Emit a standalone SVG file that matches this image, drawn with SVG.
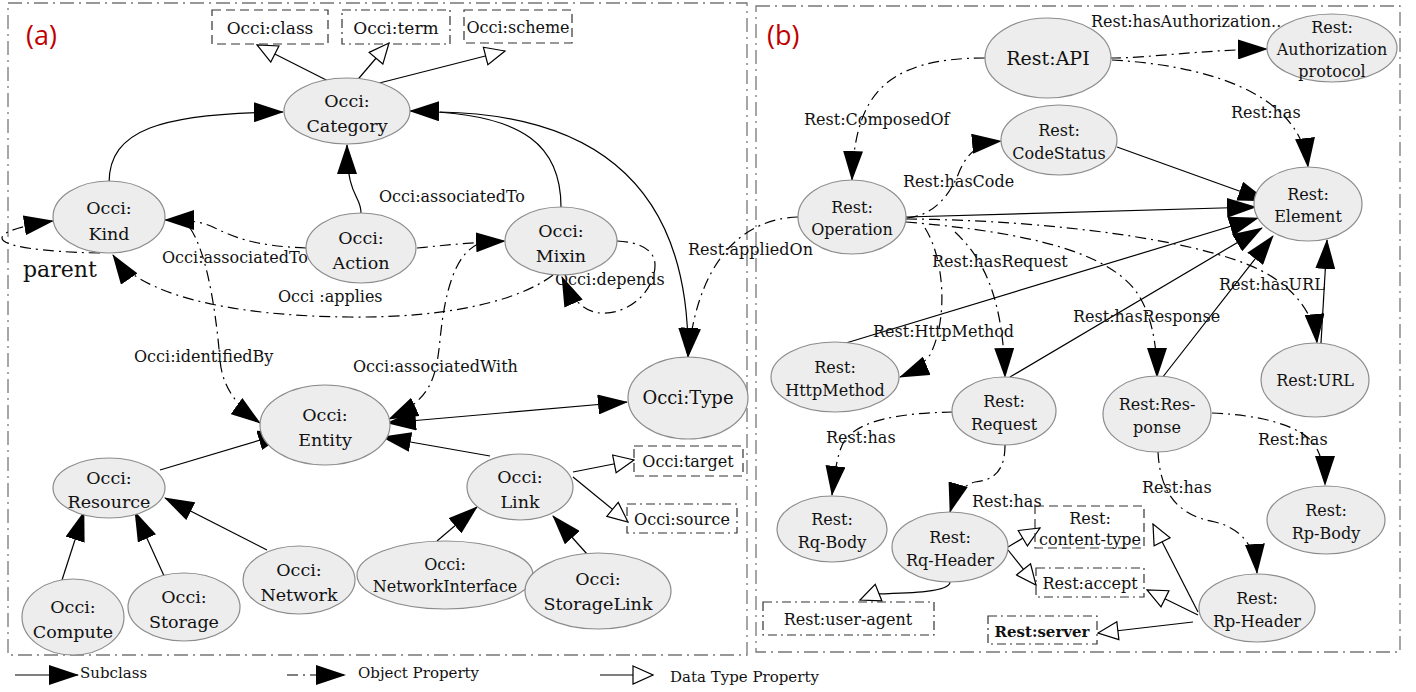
<svg xmlns="http://www.w3.org/2000/svg" width="1416" height="692" viewBox="0 0 1416 692">
<style>
.pan{fill:none;stroke:#777;stroke-width:1.3;stroke-dasharray:14,5,2,5}
.nd ellipse{fill:#ededed;stroke:#8c8c8c;stroke-width:1.2}
.bx rect{fill:none;stroke:#333;stroke-width:1.2;stroke-dasharray:9,5}
.bx2 rect{fill:none;stroke:#333;stroke-width:1.2;stroke-dasharray:9,4,2,4}
text{font-family:"DejaVu Serif","Liberation Serif",serif;fill:#111}
.t{font-size:17.5px;text-anchor:middle}
.tb{font-size:16px;text-anchor:middle}
.lb{font-size:16px}
.sub{fill:none;stroke:#000;stroke-width:1.2;marker-end:url(#fa)}
.obj{fill:none;stroke:#000;stroke-width:1.2;stroke-dasharray:11,5,2,5;marker-end:url(#fa)}
.dt{fill:none;stroke:#000;stroke-width:1.2;marker-end:url(#oa)}
.red{font-family:"Open Sans","DejaVu Sans",sans-serif;font-size:27px;fill:#c00000}
</style>
<defs>
<marker id="fa" viewBox="0 0 30 20" markerWidth="30" markerHeight="20" refX="29" refY="10" orient="auto-start-reverse" markerUnits="userSpaceOnUse"><path d="M0,0 L30,10 L0,20 Z" fill="#000"/></marker>
<marker id="oa" viewBox="-1 -1 22 20" markerWidth="22" markerHeight="20" refX="20" refY="9" orient="auto" markerUnits="userSpaceOnUse"><path d="M0,0 L20,9 L0,18 Z" fill="#fff" stroke="#000" stroke-width="1.2"/></marker>
</defs>

<rect class="pan" x="8" y="3" width="739" height="652"/>
<rect class="pan" x="756" y="6" width="644" height="646"/>
<text class="red" x="26" y="45">(a)</text>
<text class="red" x="767" y="45">(b)</text>

<g id="connectors">
<!-- panel a subclass -->
<path class="sub" d="M109,183 C109,130 160,113 283,112"/>
<path class="sub" d="M361,213 C361,195 347,198 347,145"/>
<path class="sub" d="M561,207 C561,150 530,112 410,111"/>
<path class="sub" d="M440,112 C600,115 690,190 688,357"/>
<path class="sub" d="M160,470 L287,432"/>
<path class="sub" d="M267,550 L165,498"/>
<path class="sub" d="M62,580 L84,512"/>
<path class="sub" d="M165,578 L135,512"/>
<path class="sub" d="M490,456 L382,437"/>
<path class="sub" d="M437,541 L477,507"/>
<path class="sub" d="M587,554 L553,516"/>
<path class="sub" d="M387,423 L627,402" marker-start="url(#fa)"/>
<!-- panel a data type -->
<path class="dt" d="M348,91 L257,45"/>
<path class="dt" d="M348,91 L389,43"/>
<path class="dt" d="M348,91 L505,51"/>
<path class="dt" d="M573,472 L634,460"/>
<path class="dt" d="M573,477 L628,522"/>
<!-- panel a object -->
<path class="obj" d="M100,253 C40,252 2,246 2,238 C2,232 20,226 53,221"/>
<path class="obj" d="M306,248 C250,246 230,235 215,228 C205,223 195,220 165,220"/>
<path class="obj" d="M190,228 C205,250 215,300 220,360 C222,385 235,405 260,423"/>
<path class="obj" d="M417,248 C440,246 460,243 505,241"/>
<path class="obj" d="M553,275 C520,300 450,318 350,317 C230,316 140,295 113,255"/>
<path class="obj" d="M617,241 C640,242 655,250 655,265 C655,290 630,315 600,313 C585,312 572,300 562,277"/>
<path class="obj" d="M478,244 C455,255 445,290 440,340 C436,380 430,400 389,419"/>
<path class="obj" d="M798,217 C760,218 700,240 688,357"/>
<!-- panel b subclass -->
<path class="sub" d="M1117,147 L1267,201"/>
<path class="sub" d="M906,217 L1256,207"/>
<path class="sub" d="M846,343 L1258,218"/>
<path class="sub" d="M1010,377 L1262,228"/>
<path class="sub" d="M1162,378 L1273,236"/>
<path class="sub" d="M1321,343 L1327,240"/>
<!-- panel b object -->
<path class="obj" d="M985,58 C880,58 855,100 852,180"/>
<path class="obj" d="M907,218 C935,215 950,195 960,170 C968,152 980,143 1001,141"/>
<path class="obj" d="M1110,58 C1150,58 1200,50 1267,49"/>
<path class="obj" d="M1112,60 C1200,65 1300,90 1308,167"/>
<path class="obj" d="M925,228 C945,260 948,320 930,355 C922,365 912,372 900,377"/>
<path class="obj" d="M955,232 C985,260 1003,300 1005,377"/>
<path class="obj" d="M906,222 C1000,230 1100,245 1135,290 C1150,310 1157,340 1157,377"/>
<path class="obj" d="M906,219 C1050,220 1200,240 1260,270 C1300,290 1315,320 1317,343"/>
<path class="obj" d="M953,412 C900,413 860,420 845,440 C838,450 835,470 832,495"/>
<path class="obj" d="M1005,445 C1005,470 995,480 975,482 C965,484 955,495 950,512"/>
<path class="obj" d="M1212,413 C1260,415 1300,425 1315,445 C1322,458 1325,470 1325,485"/>
<path class="obj" d="M1158,452 C1160,490 1175,515 1215,522 C1240,528 1255,545 1257,573"/>
<!-- panel b data type -->
<path class="dt" d="M1008,547 L1040,528"/>
<path class="dt" d="M1008,550 L1036,585"/>
<path class="dt" d="M950,582 C950,592 910,593 875,594 L860,600"/>
<path class="dt" d="M1198,612 L1153,524"/>
<path class="dt" d="M1198,615 L1147,590"/>
<path class="dt" d="M1193,622 L1098,633"/>
<!-- legend -->
<path class="sub" d="M15,675 L78,675"/>
<path class="obj" d="M287,675 L345,675" stroke-dasharray="3,6"/>
<path class="dt" d="M600,675 L653,675"/>
</g>

<g id="edge-labels">
<text class="lb" x="162" y="263">Occi:associatedTo</text>
<text class="lb" x="379" y="202">Occi:associatedTo</text>
<text class="lb" x="134" y="362">Occi:identifiedBy</text>
<text class="lb" x="278" y="302">Occi :applies</text>
<text class="lb" x="555" y="285">Occi:depends</text>
<text class="lb" x="353" y="372">Occi:associatedWith</text>
<text x="23" y="277" style="font-size:22px">parent</text>
<text class="lb" x="688" y="255">Rest:appliedOn</text>
<text class="lb" x="804" y="125">Rest:ComposedOf</text>
<text class="lb" x="903" y="187">Rest:hasCode</text>
<text class="lb" x="1091" y="27">Rest:hasAuthorization...</text>
<text class="lb" x="1231" y="118">Rest:has</text>
<text class="lb" x="932" y="267">Rest:hasRequest</text>
<text class="lb" x="873" y="337">Rest:HttpMethod</text>
<text class="lb" x="1073" y="322">Rest:hasResponse</text>
<text class="lb" x="1219" y="290">Rest:hasURL</text>
<text class="lb" x="826" y="443">Rest:has</text>
<text class="lb" x="972" y="507">Rest:has</text>
<text class="lb" x="1258" y="445">Rest:has</text>
<text class="lb" x="1142" y="493">Rest:has</text>
</g>

<g id="legend">
<text x="80" y="678" style="font-size:15px">Subclass</text>
<text x="358" y="678" style="font-size:15px">Object Property</text>
<text x="670" y="682" style="font-size:15px">Data Type Property</text>
</g>

<g id="occi-class" class="bx"><rect x="212" y="10" width="116" height="34"/><text class="t" x="270" y="34" style="font-size:17px">Occi:class</text></g>
<g id="occi-term" class="bx2"><rect x="342" y="10" width="108" height="34"/><text class="t" x="396" y="34" style="font-size:17px">Occi:term</text></g>
<g id="occi-scheme" class="bx"><rect x="464" y="10" width="108" height="33"/><text class="t" x="518" y="33" style="font-size:16px">Occi:scheme</text></g>
<g id="occi-target" class="bx"><rect x="634" y="446" width="109" height="30"/><text class="tb" x="688" y="467">Occi:target</text></g>
<g id="occi-source" class="bx2"><rect x="627" y="504" width="110" height="29"/><text class="tb" x="682" y="525">Occi:source</text></g>

<g id="occi-category" class="nd"><ellipse cx="347" cy="111" rx="63" ry="33"/><text class="t" x="347" y="107">Occi:</text><text class="t" x="347" y="132">Category</text></g>
<g id="occi-kind" class="nd"><ellipse cx="109" cy="217" rx="56" ry="36"/><text class="t" x="109" y="214">Occi:</text><text class="t" x="109" y="240">Kind</text></g>
<g id="occi-action" class="nd"><ellipse cx="361" cy="248" rx="55" ry="35"/><text class="t" x="361" y="244">Occi:</text><text class="t" x="361" y="269">Action</text></g>
<g id="occi-mixin" class="nd"><ellipse cx="561" cy="241" rx="56" ry="34"/><text class="t" x="561" y="237">Occi:</text><text class="t" x="561" y="262">Mixin</text></g>
<g id="occi-type" class="nd"><ellipse cx="688" cy="398" rx="60" ry="41"/><text class="t" x="688" y="404" style="font-size:18px">Occi:Type</text></g>
<g id="occi-entity" class="nd"><ellipse cx="325" cy="425" rx="65" ry="40"/><text class="t" x="325" y="421">Occi:</text><text class="t" x="325" y="446">Entity</text></g>
<g id="occi-resource" class="nd"><ellipse cx="109" cy="488" rx="56" ry="30"/><text class="t" x="109" y="484">Occi:</text><text class="t" x="109" y="508">Resource</text></g>
<g id="occi-compute" class="nd"><ellipse cx="73" cy="617" rx="51" ry="38"/><text class="t" x="73" y="613">Occi:</text><text class="t" x="73" y="638">Compute</text></g>
<g id="occi-storage" class="nd"><ellipse cx="184" cy="607" rx="56" ry="34"/><text class="t" x="184" y="603">Occi:</text><text class="t" x="184" y="628">Storage</text></g>
<g id="occi-network" class="nd"><ellipse cx="299" cy="580" rx="56" ry="34"/><text class="t" x="299" y="576">Occi:</text><text class="t" x="299" y="601">Network</text></g>
<g id="occi-link" class="nd"><ellipse cx="520" cy="487" rx="53" ry="33"/><text class="t" x="520" y="483">Occi:</text><text class="t" x="520" y="508">Link</text></g>
<g id="occi-networkinterface" class="nd"><ellipse cx="445" cy="575" rx="88" ry="34"/><text class="tb" x="445" y="570">Occi:</text><text class="tb" x="445" y="592">NetworkInterface</text></g>
<g id="occi-storagelink" class="nd"><ellipse cx="598" cy="591" rx="73" ry="38"/><text class="t" x="598" y="585">Occi:</text><text class="t" x="598" y="610">StorageLink</text></g>

<g id="rest-content-type" class="bx"><rect x="1035" y="506" width="109" height="42"/><text class="tb" x="1090" y="524">Rest:</text><text class="tb" x="1090" y="545">content-type</text></g>
<g id="rest-accept" class="bx2"><rect x="1036" y="568" width="108" height="29"/><text class="tb" x="1090" y="589">Rest:accept</text></g>
<g id="rest-server" class="bx2"><rect x="988" y="616" width="109" height="28"/><text class="tb" x="1042" y="637" style="font-weight:bold;font-size:15px">Rest:server</text></g>
<g id="rest-user-agent" class="bx2"><rect x="763" y="602" width="171" height="33"/><text class="tb" x="848" y="625">Rest:user-agent</text></g>

<g id="rest-api" class="nd"><ellipse cx="1048" cy="58" rx="63" ry="40"/><text class="t" x="1048" y="65" style="font-size:19px">Rest:API</text></g>
<g id="rest-authorization" class="nd"><ellipse cx="1332" cy="48" rx="65" ry="34"/><text class="tb" x="1332" y="33">Rest:</text><text class="tb" x="1332" y="55">Authorization</text><text class="tb" x="1332" y="77">protocol</text></g>
<g id="rest-codestatus" class="nd"><ellipse cx="1059" cy="140" rx="58" ry="35"/><text class="tb" x="1059" y="136">Rest:</text><text class="tb" x="1059" y="159">CodeStatus</text></g>
<g id="rest-element" class="nd"><ellipse cx="1308" cy="204" rx="54" ry="37"/><text class="tb" x="1308" y="200">Rest:</text><text class="tb" x="1308" y="222">Element</text></g>
<g id="rest-operation" class="nd"><ellipse cx="852" cy="217" rx="54" ry="37"/><text class="tb" x="852" y="213">Rest:</text><text class="tb" x="852" y="235">Operation</text></g>
<g id="rest-httpmethod" class="nd"><ellipse cx="835" cy="377" rx="64" ry="35"/><text class="tb" x="835" y="373">Rest:</text><text class="tb" x="835" y="396">HttpMethod</text></g>
<g id="rest-request" class="nd"><ellipse cx="1004" cy="411" rx="52" ry="34"/><text class="tb" x="1004" y="407">Rest:</text><text class="tb" x="1004" y="430">Request</text></g>
<g id="rest-response" class="nd"><ellipse cx="1157" cy="414" rx="54" ry="38"/><text class="tb" x="1157" y="410">Rest:Res-</text><text class="tb" x="1157" y="433">ponse</text></g>
<g id="rest-url" class="nd"><ellipse cx="1315" cy="380" rx="54" ry="37"/><text class="tb" x="1315" y="386">Rest:URL</text></g>
<g id="rest-rq-body" class="nd"><ellipse cx="832" cy="529" rx="55" ry="33"/><text class="tb" x="832" y="525">Rest:</text><text class="tb" x="832" y="548">Rq-Body</text></g>
<g id="rest-rq-header" class="nd"><ellipse cx="950" cy="547" rx="58" ry="35"/><text class="tb" x="950" y="543">Rest:</text><text class="tb" x="950" y="566">Rq-Header</text></g>
<g id="rest-rp-body" class="nd"><ellipse cx="1326" cy="520" rx="59" ry="34"/><text class="tb" x="1326" y="516">Rest:</text><text class="tb" x="1326" y="539">Rp-Body</text></g>
<g id="rest-rp-header" class="nd"><ellipse cx="1257" cy="608" rx="58" ry="34"/><text class="tb" x="1257" y="604">Rest:</text><text class="tb" x="1257" y="627">Rp-Header</text></g>
</svg>
